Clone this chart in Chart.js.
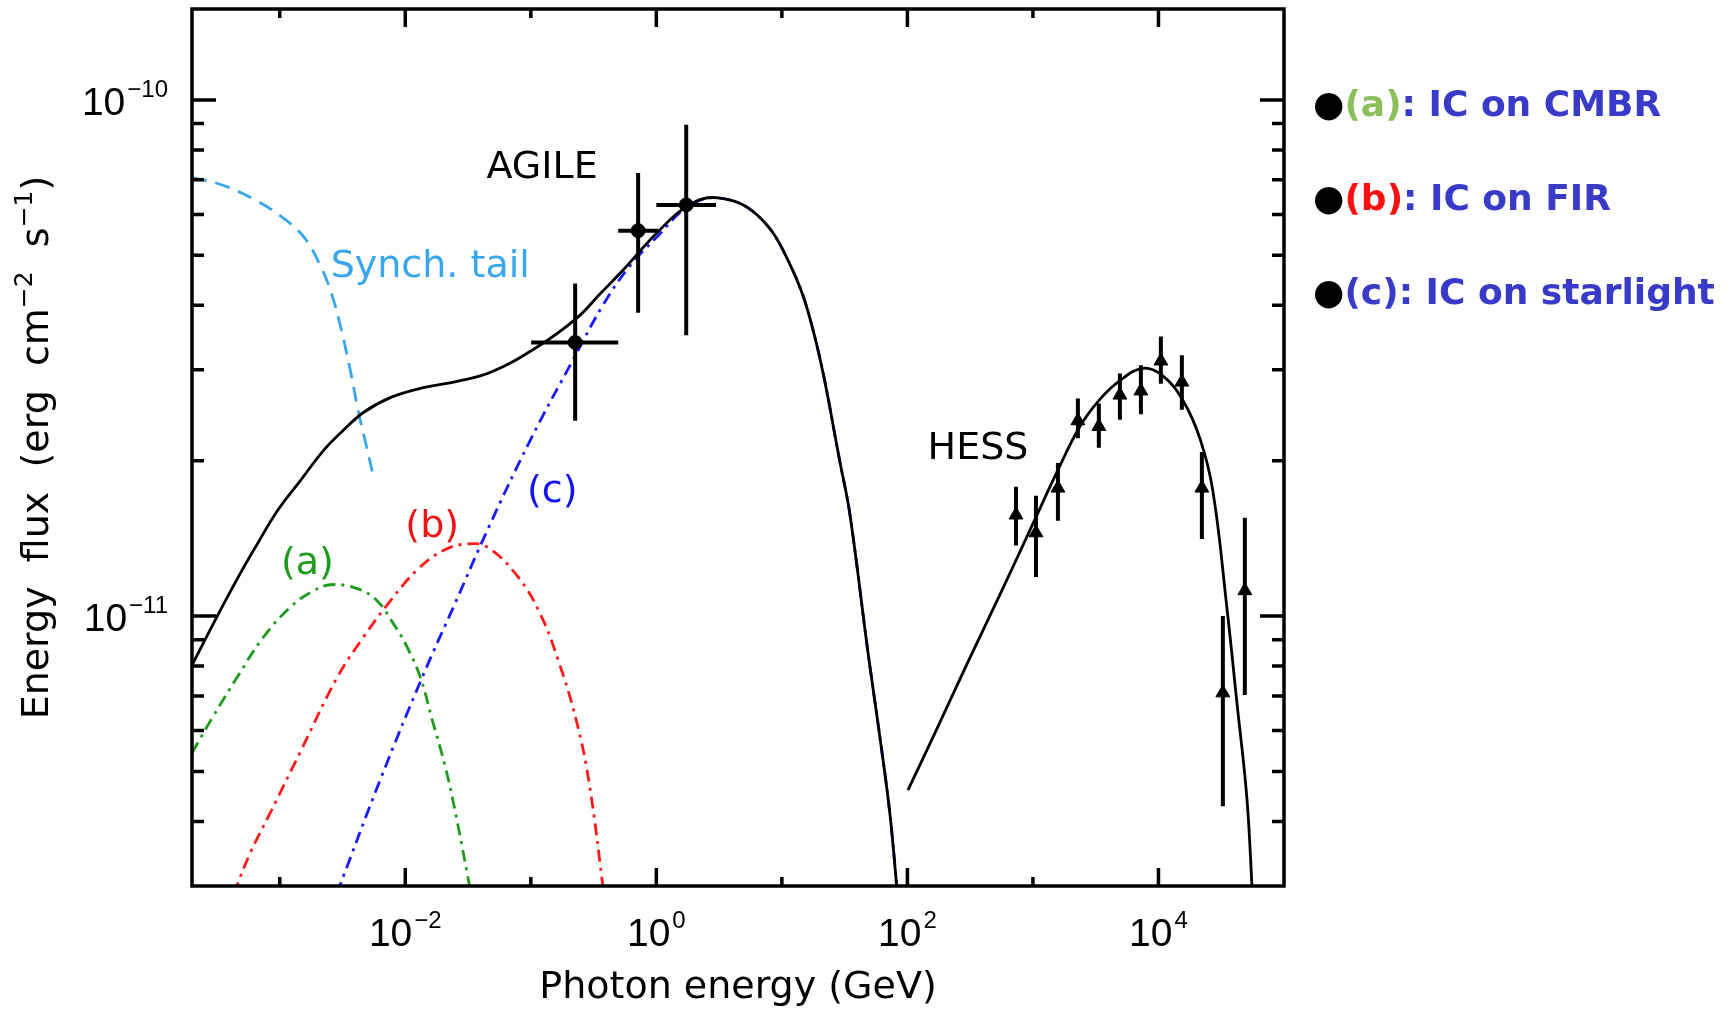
<!DOCTYPE html>
<html>
<head>
<meta charset="utf-8">
<script src="https://cdn.jsdelivr.net/npm/chart.js@4.4.0/dist/chart.umd.min.js"></script>
<style>
  html, body { margin: 0; padding: 0; background: #fff; }
  #wrap { width: 1731px; height: 1010px; }
</style>
</head>
<body>
<div id="wrap"><canvas id="sedChart" width="1731" height="1010"></canvas></div>
<script>
// photon energy in GeV, energy flux in erg cm^-2 s^-1

// synchrotron tail (light blue dashed)
const synchE = [2.0e-4, 3.43e-4, 6.28e-4, 1.05e-3, 1.57e-3, 2.10e-3, 2.58e-3, 3.09e-3, 3.65e-3, 4.22e-3, 4.89e-3, 5.56e-3];
const synchF = [7.07e-11, 6.85e-11, 6.41e-11, 5.92e-11, 5.41e-11, 4.78e-11, 4.22e-11, 3.59e-11, 2.99e-11, 2.50e-11, 2.14e-11, 1.87e-11];

// (a) IC on CMBR
const cmbrE = [2.0e-4, 2.90e-4, 4.59e-4, 7.40e-4, 1.21e-3, 1.75e-3, 2.53e-3, 4.15e-3, 5.98e-3, 8.02e-3, 0.01037, 0.01316, 0.01641, 0.02081, 0.02546, 0.0341];
const cmbrF = [5.43e-12, 6.35e-12, 7.62e-12, 9.10e-12, 1.04e-11, 1.11e-11, 1.15e-11, 1.13e-11, 1.07e-11, 9.68e-12, 8.70e-12, 7.62e-12, 6.29e-12, 5.11e-12, 4.09e-12, 2.82e-12];

// (b) IC on FIR
const firE = [4.3e-4, 5.83e-4, 8.41e-4, 1.46e-3, 2.88e-3, 4.64e-3, 7.60e-3, 0.01248, 0.02009, 0.03119, 0.04498, 0.0794, 0.1189, 0.1652, 0.2296, 0.2917, 0.384];
const firF = [2.9e-12, 3.48e-12, 4.16e-12, 5.46e-12, 7.62e-12, 9.10e-12, 1.07e-11, 1.23e-11, 1.34e-11, 1.38e-11, 1.36e-11, 1.19e-11, 1.01e-11, 8.22e-12, 6.30e-12, 4.75e-12, 2.87e-12];

// (c) IC on starlight
const starE = [2.85e-3, 6.32e-3, 0.0139, 0.0250, 0.04581, 0.0989, 0.222, 0.377, 0.607, 1.0, 1.79, 3.10, 6.23, 11.2, 18.0, 29.6, 34.9, 48.5, 60.5, 72.7, 84];
const starF = [2.9e-12, 4.82e-12, 7.69e-12, 1.06e-11, 1.48e-11, 2.19e-11, 3.17e-11, 4.01e-11, 4.75e-11, 5.41e-11, 6.21e-11, 6.46e-11, 6.01e-11, 4.89e-11, 3.53e-11, 1.94e-11, 1.57e-11, 8.51e-12, 5.81e-12, 4.12e-12, 2.82e-12];

// total model (black)
const totalE = [2.0e-4, 3.18e-4, 4.85e-4, 6.63e-4, 9.58e-4, 1.46e-3, 2.22e-3, 3.21e-3, 4.64e-3, 7.60e-3, 0.0139, 0.0259, 0.0484, 0.110, 0.230, 0.357, 0.565, 1.0, 1.79, 3.10, 6.23, 11.2, 18.0, 29.6, 34.9, 48.5, 60.5, 72.7, 84];
const totalF = [8.03e-12, 1.0e-11, 1.21e-11, 1.38e-11, 1.60e-11, 1.83e-11, 2.09e-11, 2.29e-11, 2.48e-11, 2.65e-11, 2.77e-11, 2.85e-11, 2.97e-11, 3.31e-11, 3.77e-11, 4.21e-11, 4.73e-11, 5.51e-11, 6.24e-11, 6.46e-11, 6.01e-11, 4.89e-11, 3.53e-11, 1.94e-11, 1.57e-11, 8.51e-12, 5.81e-12, 4.12e-12, 2.82e-12];

// TeV model (black)
const tevE = [101, 160, 298, 546, 1000, 1552, 2366, 3413, 4929, 7516, 10838, 15637, 21380, 27100, 35060, 42100, 50580, 56000];
const tevF = [4.60e-12, 5.83e-12, 8.07e-12, 1.10e-11, 1.51e-11, 1.90e-11, 2.33e-11, 2.63e-11, 2.86e-11, 3.02e-11, 2.92e-11, 2.62e-11, 2.21e-11, 1.75e-11, 1.04e-11, 6.82e-12, 4.45e-12, 2.9e-12];

// AGILE points
const agileE = [0.2256, 0.716, 1.73];
const agileElo = [0.1007, 0.497, 1.0];
const agileEhi = [0.497, 1.033, 2.99];
const agileF = [3.39e-11, 5.58e-11, 6.26e-11];
const agileFlo = [2.39e-11, 3.87e-11, 3.50e-11];
const agileFhi = [4.41e-11, 7.22e-11, 8.95e-11];

// HESS points
const hessE = [733, 1057, 1582, 2281, 3350, 4929, 7244, 10450, 15360, 22170, 32580, 48760];
const hessF = [1.57e-11, 1.45e-11, 1.77e-11, 2.39e-11, 2.33e-11, 2.68e-11, 2.73e-11, 3.12e-11, 2.84e-11, 1.77e-11, 7.10e-12, 1.12e-11];
const hessFlo = [1.37e-11, 1.19e-11, 1.53e-11, 2.21e-11, 2.12e-11, 2.40e-11, 2.46e-11, 2.82e-11, 2.51e-11, 1.41e-11, 4.28e-12, 7.03e-12];
const hessFhi = [1.78e-11, 1.71e-11, 1.98e-11, 2.64e-11, 2.58e-11, 2.95e-11, 3.06e-11, 3.48e-11, 3.20e-11, 2.08e-11, 1.0e-11, 1.55e-11];

// axis ticks
const xDecades = [1e-3, 1e-2, 1e-1, 1, 10, 100, 1e3, 1e4];
const xLabelExp = [-2, 0, 2, 4];
const yMajor = [1e-11, 1e-10];
const yMajorExp = [-11, -10];
const yMinor = [4e-12, 5e-12, 6e-12, 7e-12, 8e-12, 9e-12, 2e-11, 3e-11, 4e-11, 5e-11, 6e-11, 7e-11, 8e-11, 9e-11];

// in-plot labels
const noteText = ['AGILE', 'Synch. tail', 'HESS', '(a)', '(b)', '(c)'];
const noteE = [0.123, 0.0158, 365, 1.66e-3, 0.0164, 0.148];
const noteF = [7.38e-11, 4.75e-11, 2.11e-11, 1.26e-11, 1.49e-11, 1.74e-11];
const noteColor = ['#000000', '#3aa6ee', '#000000', '#1e9a1e', '#f01414', '#1414f0'];

// legend on the right
const legendTag = ['(a)', '(b)', '(c)'];
const legendText = [': IC on CMBR', ': IC on FIR', ': IC on starlight'];
const legendTagColor = ['#8cbf5a', '#ff1010', '#3a3ac8'];

const FONT = '"DejaVu Sans", sans-serif';
const TICKFONT = '"Liberation Sans", Arial, sans-serif';

function pts(xs, ys) {
  return xs.map((x, i) => ({ x: x, y: ys[i] }));
}

function curve(label, xs, ys, color, dash, width, order) {
  return {
    label: label,
    data: pts(xs, ys),
    showLine: true,
    borderColor: color,
    borderWidth: width,
    borderDash: dash,
    pointRadius: 0,
    tension: 0.4,
    order: order
  };
}

// draws 10^exp with a raised exponent
function drawPow(ctx, exp, x, y, align) {
  const base = '10';
  const sup = (exp < 0 ? '\u2212' : '') + Math.abs(exp);
  ctx.font = '39px ' + TICKFONT;
  const wb = ctx.measureText(base).width;
  ctx.font = '24px ' + TICKFONT;
  const ws = ctx.measureText(sup).width;
  const total = wb + 2 + ws;
  let x0 = x;
  if (align === 'center') x0 = x - total / 2;
  if (align === 'right') x0 = x - total;
  ctx.textAlign = 'left';
  ctx.textBaseline = 'alphabetic';
  ctx.font = '39px ' + TICKFONT;
  ctx.fillText(base, x0, y);
  ctx.font = '24px ' + TICKFONT;
  ctx.fillText(sup, x0 + wb + 2, y - 18);
}

function drawParts(ctx, parts, x, y) {
  let cx = x;
  parts.forEach(p => {
    ctx.font = p.font;
    ctx.fillStyle = p.color || '#000';
    ctx.fillText(p.t, cx, y + (p.dy || 0));
    cx += ctx.measureText(p.t).width;
  });
  return cx - x;
}

function partsWidth(ctx, parts) {
  let w = 0;
  parts.forEach(p => { ctx.font = p.font; w += ctx.measureText(p.t).width; });
  return w;
}

const sedDecor = {
  id: 'sedDecor',
  afterDatasetsDraw(chart) {
    const { ctx, chartArea: a, scales: { x, y } } = chart;
    ctx.save();
    ctx.beginPath();
    ctx.rect(a.left, a.top, a.right - a.left, a.bottom - a.top);
    ctx.clip();

    // error bars
    ctx.strokeStyle = '#000';
    ctx.lineWidth = 4;
    ctx.beginPath();
    agileE.forEach((e, i) => {
      const px = x.getPixelForValue(e);
      const py = y.getPixelForValue(agileF[i]);
      ctx.moveTo(x.getPixelForValue(agileElo[i]), py);
      ctx.lineTo(x.getPixelForValue(agileEhi[i]), py);
      ctx.moveTo(px, y.getPixelForValue(agileFlo[i]));
      ctx.lineTo(px, y.getPixelForValue(agileFhi[i]));
    });
    hessE.forEach((e, i) => {
      const px = x.getPixelForValue(e);
      ctx.moveTo(px, y.getPixelForValue(hessFlo[i]));
      ctx.lineTo(px, y.getPixelForValue(hessFhi[i]));
    });
    ctx.stroke();

    // labels inside the plot
    ctx.font = '38px ' + FONT;
    ctx.textAlign = 'center';
    ctx.textBaseline = 'middle';
    noteText.forEach((t, i) => {
      ctx.fillStyle = noteColor[i];
      ctx.fillText(t, x.getPixelForValue(noteE[i]), y.getPixelForValue(noteF[i]));
    });
    ctx.restore();
  },
  afterDraw(chart) {
    const { ctx, chartArea: a, scales: { x, y } } = chart;
    ctx.save();
    ctx.strokeStyle = '#000';
    ctx.fillStyle = '#000';

    // frame
    ctx.lineWidth = 3.5;
    ctx.strokeRect(a.left, a.top, a.right - a.left, a.bottom - a.top);

    // inward ticks on all four sides
    ctx.lineWidth = 3.5;
    ctx.beginPath();
    xDecades.forEach(v => {
      const px = x.getPixelForValue(v);
      const long = xLabelExp.includes(Math.round(Math.log10(v)));
      const len = long ? 18 : 9;
      ctx.moveTo(px, a.bottom); ctx.lineTo(px, a.bottom - len);
      ctx.moveTo(px, a.top); ctx.lineTo(px, a.top + len);
    });
    yMajor.forEach(v => {
      const py = y.getPixelForValue(v);
      ctx.moveTo(a.left, py); ctx.lineTo(a.left + 24, py);
      ctx.moveTo(a.right, py); ctx.lineTo(a.right - 24, py);
    });
    yMinor.forEach(v => {
      const py = y.getPixelForValue(v);
      ctx.moveTo(a.left, py); ctx.lineTo(a.left + 12, py);
      ctx.moveTo(a.right, py); ctx.lineTo(a.right - 12, py);
    });
    ctx.stroke();

    // tick labels
    xLabelExp.forEach(ex => {
      drawPow(ctx, ex, x.getPixelForValue(Math.pow(10, ex)), a.bottom + 60, 'center');
    });
    yMajor.forEach((v, i) => {
      drawPow(ctx, yMajorExp[i], a.left - 24, y.getPixelForValue(v) + 15, 'right');
    });

    // axis titles
    ctx.textAlign = 'center';
    ctx.textBaseline = 'alphabetic';
    ctx.font = '38px ' + FONT;
    ctx.fillText('Photon energy (GeV)', (a.left + a.right) / 2, 998);

    const base = '38px ' + FONT, sup = '25px ' + FONT;
    const title = [
      { t: 'Energy  flux  (erg  cm', font: base },
      { t: '\u22122', font: sup, dy: -16 },
      { t: '  s', font: base },
      { t: '\u22121', font: sup, dy: -16 },
      { t: ')', font: base }
    ];
    ctx.save();
    ctx.translate(48, (a.top + a.bottom) / 2);
    ctx.rotate(-Math.PI / 2);
    ctx.textAlign = 'left';
    const tw = partsWidth(ctx, title);
    drawParts(ctx, title, -tw / 2, 0);
    ctx.restore();

    // legend
    ctx.textAlign = 'left';
    const lf = 'bold 36px ' + FONT;
    const rows = [116, 210, 304];
    legendTag.forEach((tag, i) => {
      drawParts(ctx, [
        { t: '\u25CF', font: lf, color: '#000000' },
        { t: tag, font: lf, color: legendTagColor[i] },
        { t: legendText[i], font: lf, color: '#3a3ac8' }
      ], 1313, rows[i]);
    });
    ctx.restore();
  }
};

new Chart(document.getElementById('sedChart'), {
  type: 'scatter',
  data: {
    datasets: [
      {
        label: 'AGILE',
        data: pts(agileE, agileF),
        pointStyle: 'circle',
        pointRadius: 7,
        backgroundColor: '#000',
        borderColor: '#000',
        order: 0
      },
      {
        label: 'HESS',
        data: pts(hessE, hessF),
        pointStyle: 'triangle',
        pointRadius: 8,
        backgroundColor: '#000',
        borderColor: '#000',
        order: 0
      },
      curve('Total', totalE, totalF, '#000000', [], 2.8, 1),
      curve('TeV model', tevE, tevF, '#000000', [], 2.8, 1),
      curve('(c) IC on starlight', starE, starF, '#1a1aff', [12, 6, 3, 6], 2.8, 2),
      curve('(b) IC on FIR', firE, firF, '#ff1a1a', [12, 6, 3, 6], 2.8, 2),
      curve('(a) IC on CMBR', cmbrE, cmbrF, '#1e9a1e', [12, 6, 3, 6], 2.8, 2),
      curve('Synch. tail', synchE, synchF, '#3aa6ee', [15, 9], 2.8, 2)
    ]
  },
  options: {
    responsive: false,
    devicePixelRatio: 1,
    animation: false,
    layout: { padding: { left: 192, top: 8, right: 447, bottom: 124 } },
    scales: {
      x: { type: 'logarithmic', min: 2e-4, max: 1e5, display: false },
      y: { type: 'logarithmic', min: 3e-12, max: 1.5e-10, display: false }
    },
    plugins: {
      legend: { display: false },
      tooltip: { enabled: false }
    }
  },
  plugins: [sedDecor]
});
</script>
</body>
</html>
